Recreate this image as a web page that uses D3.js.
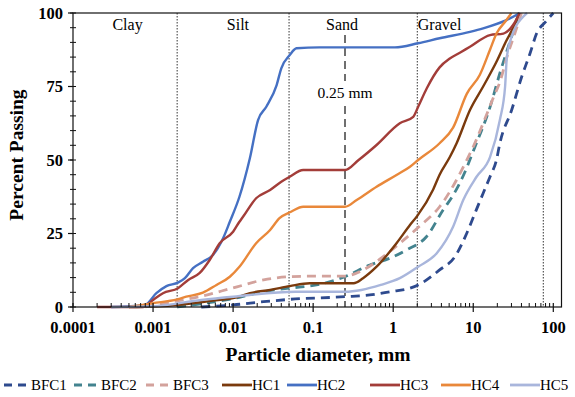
<!DOCTYPE html>
<html>
<head>
<meta charset="utf-8">
<script src="https://cdn.jsdelivr.net/npm/d3@7"></script>
<style>
body { margin:0; background:#fff; }
svg { display:block; font-family:"Liberation Serif","Times New Roman",serif; }
</style>
</head>
<body>
<svg id="chart" width="575" height="397"></svg>
<script>
// series names, legend order
var seriesNames = ["BFC1","BFC2","BFC3","HC1","HC2","HC3","HC4","HC5"];

// particle size (mm) / percent passing for each sample
var bfc1Size = [0.004,0.01,0.024,0.051,0.25,0.51,0.91,1.62,2.05,3.8,5.9,8.3,10.5,13.3,16.2,19.5,21.5,30.2,40.3,51.3,62,80,100];
var bfc1Pass = [0,0.7,1.8,2.6,3.5,4.1,5.2,6.4,7.5,12.6,17.1,25.1,31.9,38.7,44.3,50,55.7,67,78.3,86.3,93.1,97,100];

var bfc2Size = [0.002,0.005,0.012,0.024,0.05,0.11,0.25,0.51,0.91,1.47,2.6,4.2,5.6,7.9,10,16.2,21.5,30.2,36.5,40];
var bfc2Pass = [0,1.5,3.3,5.2,6.4,7.5,10.3,14.3,16.6,19.4,23.9,33,38,46,53,68,79.5,92,98.7,100];

var bfc3Size = [0.0008,0.0012,0.0038,0.01,0.024,0.05,0.11,0.25,0.42,0.75,1.21,2.1,3.8,6.5,8.3,10,14,17.7,21.5,27,34,40];
var bfc3Pass = [0,1,3.5,6.5,9.2,10.3,10.5,10.5,12.6,17.1,21.7,27.3,34.1,44.3,50,54.5,64,71,76.5,86,94,100];

var hc1Size = [0.0005,0.002,0.005,0.012,0.0162,0.029,0.051,0.091,0.32,0.42,0.62,1.1,1.62,2.0,3.16,3.8,5.1,6.2,9.1,13.3,20,25,34.6,37];
var hc1Pass = [0,0.7,2,3.5,4.7,5.8,7.1,8.1,8.1,9.8,13.7,21.7,27.9,31,40,45,51,55.7,67,75,84,89.7,97.6,100];

var hc2Size = [0.0003,0.00079,0.0011,0.00147,0.00205,0.0025,0.00316,0.0042,0.0056,0.0075,0.0091,0.012,0.0162,0.0205,0.026,0.035,0.04,0.051,0.062,0.12,1.05,2.04,3.8,9.1,13.3,26,34.6,38];
var hc2Pass = [0,0.7,4.7,7.1,8.3,9.8,13.2,15.4,17.7,23.4,29,37.5,50.6,63.6,68.1,75.5,81.2,85.7,88,88.3,88.3,89.7,91.4,93.6,94.8,97.6,99.3,100];

var hc3Size = [0.0002,0.00075,0.001,0.00133,0.00205,0.00275,0.0038,0.0051,0.0068,0.01,0.012,0.0133,0.0194,0.029,0.04,0.051,0.075,0.25,0.37,0.62,1.21,1.78,2.05,2.63,3.8,5.1,6.8,9.1,16.2,23.8,31.6,38];
var hc3Pass = [0,0,2.4,4.7,6.4,9.2,11.5,16,21.7,25.6,29,30.7,37,39.8,42.6,44.3,46.6,46.6,50,55.1,62.5,64.7,68.1,74.4,81.5,84.5,86.5,88.5,92.5,93,96,100];

var hc4Size = [0.0005,0.001,0.002,0.0026,0.0042,0.0062,0.0091,0.012,0.0194,0.029,0.038,0.053,0.075,0.25,0.35,0.62,1.1,1.62,2.05,3.8,5.6,8.3,12.1,16.2,19.5,26,30];
var hc4Pass = [0,1.3,2.6,3.5,4.9,7.5,10.3,13.7,21.7,26.2,30.2,32.4,34.1,34.1,36.4,40.9,44.9,47.7,50,55.7,61,72.5,79,87.5,93,97.6,100];

var hc5Size = [0.0003,0.001,0.004,0.01,0.06,0.25,0.4,0.7,1.21,2.05,3.5,5.6,7.5,11,16.2,21.5,25,26.3,30.2,42,47];
var hc5Pass = [0,0.3,2.4,3.5,5.2,5.2,5.8,7.5,9.8,13.7,18.3,27.3,36.4,44.3,51,63.6,75,85,92,98.7,100];

var xTicks = [0.0001,0.001,0.01,0.1,1,10,100];
var yTicks = [0,25,50,75,100];
var bounds = [0.002,0.05,2,75];          // dotted class boundaries
var boundLabels = ["Clay","Silt","Sand","Gravel"];

var colors = ["#2e4a8e","#43838f","#d3a29c","#7a3a0d","#4570c3","#a33d39","#e9883a","#a9b6dc"];
var dashed = [true,true,true,false,false,false,false,false];
var sizes = [bfc1Size,bfc2Size,bfc3Size,hc1Size,hc2Size,hc3Size,hc4Size,hc5Size];
var passes = [bfc1Pass,bfc2Pass,bfc3Pass,hc1Pass,hc2Pass,hc3Pass,hc4Pass,hc5Pass];

var pLeft = 73, pRight = 561.5, pTop = 13, pBottom = 307;
var svg = d3.select("#chart");

var x = d3.scaleLog().domain([0.0001, Math.pow(10, 2 + (pRight-553.3)/80)]).range([pLeft, pRight]);
var y = d3.scaleLinear().domain([0,100]).range([pBottom, pTop]);

// class boundaries
svg.selectAll(".bound").data(bounds).enter().append("line")
	.attr("x1", function(d){ return x(d); }).attr("x2", function(d){ return x(d); })
	.attr("y1", pTop).attr("y2", pBottom)
	.attr("stroke", "#333").attr("stroke-width", 1).attr("stroke-dasharray", "1.5,1.5");

// 0.25 mm line, broken round its label
svg.append("line").attr("x1", x(0.25)).attr("x2", x(0.25)).attr("y1", 35).attr("y2", 81)
	.attr("stroke", "#222").attr("stroke-width", 1.3).attr("stroke-dasharray", "8,5");
svg.append("line").attr("x1", x(0.25)).attr("x2", x(0.25)).attr("y1", 106).attr("y2", pBottom)
	.attr("stroke", "#222").attr("stroke-width", 1.3).attr("stroke-dasharray", "8,5");
svg.append("text").attr("x", x(0.25)).attr("y", 98).attr("text-anchor","middle")
	.attr("font-size", 15.5).text("0.25 mm");

// class labels
var labelX = [0.00048, 0.0115, 0.23, 2.03];
svg.selectAll(".cls").data(boundLabels).enter().append("text")
	.attr("x", function(d,i){ return x(labelX[i]); })
	.attr("y", 30)
	.attr("text-anchor", function(d,i){ return i==3 ? "start" : "middle"; })
	.attr("font-size", 16)
	.text(function(d){ return d; });

// curves
var line = d3.line()
	.x(function(d){ return x(d[0]); })
	.y(function(d){ return y(d[1]); })
	.curve(d3.curveMonotoneX);

for (var i=0; i < seriesNames.length; i++) {
	var pts = sizes[i].map(function(s,j){ return [s, passes[i][j]]; });
	svg.append("path").datum(pts)
		.attr("d", line)
		.attr("fill", "none")
		.attr("stroke", colors[i])
		.attr("stroke-width", dashed[i] ? 2.8 : 2.4)
		.attr("stroke-dasharray", dashed[i] ? "9,6" : null);
}

// frame
svg.append("rect").attr("x", pLeft).attr("y", pTop).attr("width", pRight-pLeft).attr("height", pBottom-pTop)
	.attr("fill","none").attr("stroke","#111").attr("stroke-width",1.2);

// x axis ticks
var minor = [];
for (var e=-4; e<=2; e++) {
	for (var m=2; m<=9; m++) {
		var v = m*Math.pow(10,e);
		if (x(v) < pRight) minor.push(v);
	}
}
svg.selectAll(".xmin").data(minor).enter().append("line")
	.attr("x1", function(d){ return x(d); }).attr("x2", function(d){ return x(d); })
	.attr("y1", pBottom).attr("y2", pBottom-4).attr("stroke","#111").attr("stroke-width",1);
svg.selectAll(".xmaj").data(xTicks).enter().append("line")
	.attr("x1", function(d){ return x(d); }).attr("x2", function(d){ return x(d); })
	.attr("y1", pBottom-4).attr("y2", pBottom+5).attr("stroke","#111").attr("stroke-width",1.2);
svg.selectAll(".xlab").data(xTicks).enter().append("text")
	.attr("x", function(d){ return x(d); }).attr("y", 333)
	.attr("text-anchor","middle").attr("font-size",16.5).attr("font-weight","bold")
	.text(function(d){ return d >= 1 ? d3.format("d")(d) : String(d); });

// y axis ticks
var yMinor = d3.range(0, 101, 5);
svg.selectAll(".ymin").data(yMinor).enter().append("line")
	.attr("x1", pLeft-3).attr("x2", pLeft+3)
	.attr("y1", function(d){ return y(d); }).attr("y2", function(d){ return y(d); })
	.attr("stroke","#111").attr("stroke-width",1);
svg.selectAll(".ymaj").data(yTicks).enter().append("line")
	.attr("x1", pLeft-5).attr("x2", pLeft)
	.attr("y1", function(d){ return y(d); }).attr("y2", function(d){ return y(d); })
	.attr("stroke","#111").attr("stroke-width",1.2);
svg.selectAll(".ylab").data(yTicks).enter().append("text")
	.attr("x", pLeft-10).attr("y", function(d){ return y(d)+5.5; })
	.attr("text-anchor","end").attr("font-size",16.5).attr("font-weight","bold")
	.text(function(d){ return d; });

// axis titles
svg.append("text").attr("x", 318).attr("y", 361).attr("text-anchor","middle")
	.attr("font-size",19.5).attr("font-weight","bold").text("Particle diameter, mm");
svg.append("text").attr("transform","translate(23,155) rotate(-90)").attr("text-anchor","middle")
	.attr("font-size",19.5).attr("font-weight","bold").text("Percent Passing");

// legend
var legX = [4, 74, 146, 222, 287, 370, 441, 510];
var legY = 385;
var leg = svg.selectAll(".leg").data(seriesNames).enter().append("g")
	.attr("transform", function(d,i){ return "translate(" + legX[i] + "," + legY + ")"; });
leg.append("line").attr("x1",0).attr("x2", function(d,i){ return dashed[i] ? 23 : 30; })
	.attr("y1",0).attr("y2",0)
	.attr("stroke", function(d,i){ return colors[i]; })
	.attr("stroke-width", 2.8)
	.attr("stroke-dasharray", function(d,i){ return dashed[i] ? "8,6" : null; });
leg.append("text").attr("x", function(d,i){ return dashed[i] ? 27 : 30; }).attr("y", 5)
	.attr("font-size", 15).text(function(d){ return d; });
</script>
</body>
</html>
